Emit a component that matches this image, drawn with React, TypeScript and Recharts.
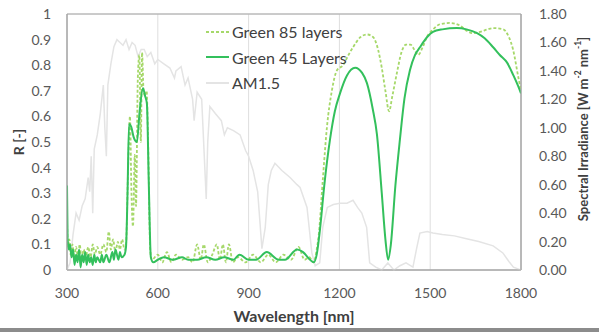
import { LineChart, Line, XAxis, YAxis, CartesianGrid, Legend, ReferenceArea } from 'recharts';

// Green 45 layers (solid)
const wl45 = [300, 302, 306, 310, 315, 320, 325, 330, 335, 340, 345, 350, 355, 360, 365, 370, 375, 380, 385, 390, 395, 400, 410, 415, 420, 430, 440, 450, 455, 460, 470, 475, 480, 490, 495, 500, 505, 512, 520, 531, 540, 551, 558, 564, 570, 577, 585, 600, 620, 650, 680, 700, 730, 760, 790, 820, 850, 870, 900, 925, 960, 1000, 1020, 1060, 1080, 1103, 1115, 1125, 1136, 1150, 1169, 1185, 1202, 1225, 1252, 1275, 1291, 1310, 1324, 1340, 1352, 1361, 1370, 1385, 1400, 1415, 1433, 1450, 1466, 1490, 1509, 1540, 1588, 1620, 1655, 1680, 1708, 1730, 1754, 1775, 1790, 1800];
const r45 = [0.33, 0.12, 0.08, 0.1, 0.05, 0.08, 0.02, 0.06, 0.03, 0.08, 0.01, 0.06, 0.03, 0.07, 0.02, 0.06, 0.03, 0.05, 0.02, 0.06, 0.03, 0.05, 0.03, 0.06, 0.03, 0.06, 0.03, 0.07, 0.04, 0.08, 0.04, 0.07, 0.05, 0.06, 0.09, 0.3, 0.57, 0.56, 0.52, 0.5, 0.62, 0.71, 0.68, 0.65, 0.35, 0.05, 0.03, 0.04, 0.05, 0.04, 0.05, 0.04, 0.04, 0.05, 0.04, 0.05, 0.04, 0.06, 0.04, 0.04, 0.07, 0.04, 0.04, 0.08, 0.07, 0.04, 0.03, 0.06, 0.16, 0.33, 0.51, 0.62, 0.69, 0.76, 0.79, 0.77, 0.73, 0.63, 0.53, 0.3, 0.12, 0.04, 0.1, 0.33, 0.51, 0.67, 0.78, 0.84, 0.87, 0.91, 0.93, 0.94, 0.945, 0.94, 0.925, 0.905, 0.87, 0.84, 0.81, 0.76, 0.72, 0.69];

// Green 85 layers (dashed)
const wl85 = [300, 303, 308, 312, 318, 323, 330, 336, 342, 348, 355, 362, 370, 378, 385, 392, 400, 410, 420, 430, 438, 445, 452, 460, 468, 475, 482, 490, 495, 502, 508, 513, 518, 524, 528, 534, 539, 544, 548, 553, 558, 563, 568, 575, 580, 600, 615, 630, 645, 660, 680, 700, 715, 730, 742, 752, 765, 780, 795, 805, 815, 825, 835, 848, 865, 890, 915, 940, 965, 990, 1015, 1040, 1065, 1085, 1100, 1115, 1125, 1132, 1145, 1159, 1175, 1192, 1212, 1230, 1245, 1270, 1291, 1311, 1328, 1340, 1352, 1364, 1375, 1390, 1405, 1420, 1435, 1448, 1460, 1475, 1489, 1510, 1532, 1565, 1598, 1620, 1640, 1665, 1690, 1708, 1741, 1760, 1774, 1790, 1800];
const r85 = [0.2, 0.09, 0.12, 0.06, 0.1, 0.05, 0.09, 0.05, 0.1, 0.04, 0.08, 0.05, 0.09, 0.05, 0.1, 0.06, 0.09, 0.06, 0.1, 0.07, 0.15, 0.08, 0.12, 0.07, 0.11, 0.08, 0.12, 0.08, 0.1, 0.4, 0.6, 0.3, 0.17, 0.45, 0.25, 0.75, 0.84, 0.5, 0.85, 0.7, 0.68, 0.7, 0.5, 0.08, 0.04, 0.06, 0.03, 0.07, 0.03, 0.06, 0.04, 0.05, 0.03, 0.1, 0.04, 0.1, 0.03, 0.06, 0.1, 0.04, 0.1, 0.03, 0.1, 0.03, 0.05, 0.03, 0.06, 0.03, 0.06, 0.03, 0.06, 0.04, 0.09, 0.04, 0.05, 0.03, 0.08, 0.14, 0.35, 0.56, 0.7, 0.78, 0.8, 0.84, 0.87, 0.91, 0.92, 0.91, 0.86, 0.79, 0.7, 0.62, 0.68, 0.77, 0.85, 0.88, 0.88, 0.86, 0.84, 0.87, 0.91, 0.94, 0.96, 0.965, 0.955, 0.935, 0.925, 0.93, 0.94, 0.945, 0.94, 0.91, 0.86, 0.76, 0.7];

// AM1.5 spectral irradiance (right axis)
const wlAM = [300, 310, 320, 330, 340, 350, 360, 370, 375, 380, 385, 390, 400, 410, 420, 425, 430, 435, 445, 455, 465, 475, 485, 495, 505, 515, 525, 535, 545, 555, 565, 577, 590, 600, 620, 640, 655, 660, 677, 690, 700, 715, 720, 730, 745, 760, 765, 772, 790, 810, 820, 830, 850, 872, 890, 900, 915, 930, 944, 955, 965, 975, 987, 1010, 1037, 1060, 1070, 1093, 1109, 1120, 1135, 1145, 1160, 1180, 1202, 1225, 1245, 1260, 1274, 1290, 1300, 1320, 1340, 1360, 1380, 1400, 1420, 1443, 1455, 1466, 1490, 1509, 1540, 1580, 1620, 1660, 1708, 1740, 1760, 1775, 1800];
const am15 = [0, 0.05, 0.25, 0.4, 0.35, 0.45, 0.5, 0.65, 0.55, 0.8, 0.4, 0.85, 0.95, 1.1, 1.3, 1.0, 0.8, 1.3, 1.45, 1.57, 1.62, 1.6, 1.58, 1.62, 1.55, 1.6, 1.58, 1.5, 1.55, 1.55, 1.5, 1.53, 1.45, 1.48, 1.45, 1.42, 1.35, 1.4, 1.43, 1.3, 1.35, 1.2, 1.05, 1.25, 1.2, 0.5, 0.9, 1.15, 1.1, 1.05, 0.95, 1.0, 0.98, 0.95, 0.84, 0.8, 0.7, 0.55, 0.15, 0.3, 0.6, 0.7, 0.75, 0.7, 0.65, 0.6, 0.58, 0.44, 0.12, 0.03, 0.05, 0.3, 0.44, 0.46, 0.47, 0.47, 0.49, 0.44, 0.4, 0.3, 0.05, 0.02, 0, 0.05, 0, 0.03, 0.05, 0.02, 0.15, 0.26, 0.27, 0.26, 0.25, 0.24, 0.22, 0.2, 0.17, 0.12, 0.06, 0.02, 0];

const xTicks = [300, 600, 900, 1200, 1500, 1800];
const rTicks = [0, 0.1, 0.2, 0.3, 0.4, 0.5, 0.6, 0.7, 0.8, 0.9, 1];
const irrTicks = [0, 0.2, 0.4, 0.6, 0.8, 1.0, 1.2, 1.4, 1.6, 1.8];

const data45 = wl45.map((x, i) => ({ x, y: r45[i] }));
const data85 = wl85.map((x, i) => ({ x, y: r85[i] }));
const dataAM = wlAM.map((x, i) => ({ x, y: am15[i] }));

const FONT = 'Lato, "Open Sans", sans-serif';
const tickStyle = { fill: '#595959', fontSize: 14, fontFamily: FONT };

const legendItems = [
  { name: 'Green 85 layers', color: '#a6d86a', dash: '3 2' },
  { name: 'Green 45 Layers', color: '#33c05c', dash: undefined },
  { name: 'AM1.5', color: '#e4e4e4', dash: undefined },
];

const renderLegend = () => (
  <div style={{ fontFamily: FONT, fontSize: 16, color: '#404040' }}>
    {legendItems.map((it) => (
      <div key={it.name} style={{ height: 25.5, display: 'flex', alignItems: 'center' }}>
        <svg width={24} height={10} style={{ marginRight: 2 }}>
          <line x1={0} y1={5} x2={23} y2={5} stroke={it.color} strokeWidth={2} strokeDasharray={it.dash} />
        </svg>
        <span>{it.name}</span>
      </div>
    ))}
  </div>
);

export default function App() {
  return (
    <div style={{ position: 'absolute', left: 0, top: 0, width: 599, height: 332, background: '#fff', overflow: 'hidden' }}>
      <LineChart width={599} height={332} margin={{ top: 14, right: 0, left: 0, bottom: 0 }}>
        <CartesianGrid stroke="#dedede" strokeWidth={1} horizontal={true} vertical={true} />
        <XAxis
          dataKey="x"
          type="number"
          domain={[300, 1800]}
          ticks={xTicks}
          allowDataOverflow
          height={62}
          axisLine={{ stroke: '#a6a6a6' }}
          tickLine={false}
          tickSize={6}
          tickMargin={12}
          tick={tickStyle}
          label={{
            content: () => (
              <text x={294} y={315} textAnchor="middle" dominantBaseline="central" fontFamily={FONT} fontSize={16} fontWeight="bold" fill="#404040">
                Wavelength [nm]
              </text>
            ),
          }}
        />
        <YAxis
          yAxisId="r"
          domain={[0, 1]}
          ticks={rTicks}
          width={67}
          axisLine={{ stroke: '#a6a6a6' }}
          tickLine={false}
          tickSize={6}
          tickMargin={10}
          tick={tickStyle}
          label={{
            content: () => (
              <text x={18} y={142} transform="rotate(-90 18 142)" textAnchor="middle" dominantBaseline="central" fontFamily={FONT} fontSize={14} fontWeight="bold" fill="#404040">
                R [-]
              </text>
            ),
          }}
        />
        <YAxis
          yAxisId="irr"
          orientation="right"
          domain={[0, 1.8]}
          ticks={irrTicks}
          tickFormatter={(v: number) => v.toFixed(2)}
          width={78}
          axisLine={{ stroke: '#a6a6a6' }}
          tickLine={false}
          tickSize={6}
          tickMargin={12}
          tick={tickStyle}
          label={{
            content: () => (
              <text x={583} y={129} transform="rotate(-90 583 129)" textAnchor="middle" dominantBaseline="central" fontFamily={FONT} fontSize={13} fontWeight="bold" fill="#404040">
                Spectral Irradiance [W m
                <tspan fontSize={8.5} dy={-5}>-2</tspan>
                <tspan dy={5}> nm</tspan>
                <tspan fontSize={8.5} dy={-5}>-1</tspan>
                <tspan dy={5}>]</tspan>
              </text>
            ),
          }}
        />
        <ReferenceArea yAxisId="r" x1={300} x2={1800} y1={0} y2={1} fill="none" stroke="#a6a6a6" strokeWidth={1} ifOverflow="visible" />
        <Legend
          layout="vertical"
          align="center"
          verticalAlign="middle"
          wrapperStyle={{ top: 19, left: 206, width: 180 }}
          content={renderLegend}
        />
        <Line yAxisId="irr" data={dataAM} dataKey="y" name="AM1.5" type="linear" stroke="#e4e4e4" strokeWidth={1.5} dot={false} isAnimationActive={false} />
        <Line yAxisId="r" data={data85} dataKey="y" name="Green 85 layers" type="monotone" stroke="#a6d86a" strokeWidth={1.8} strokeDasharray="3 2" dot={false} isAnimationActive={false} />
        <Line yAxisId="r" data={data45} dataKey="y" name="Green 45 Layers" type="monotone" stroke="#33c05c" strokeWidth={2} dot={false} isAnimationActive={false} />
      </LineChart>
      <div style={{ position: 'absolute', left: 0, bottom: 0, width: 599, height: 4, background: '#8c8c8c' }} />
    </div>
  );
}
